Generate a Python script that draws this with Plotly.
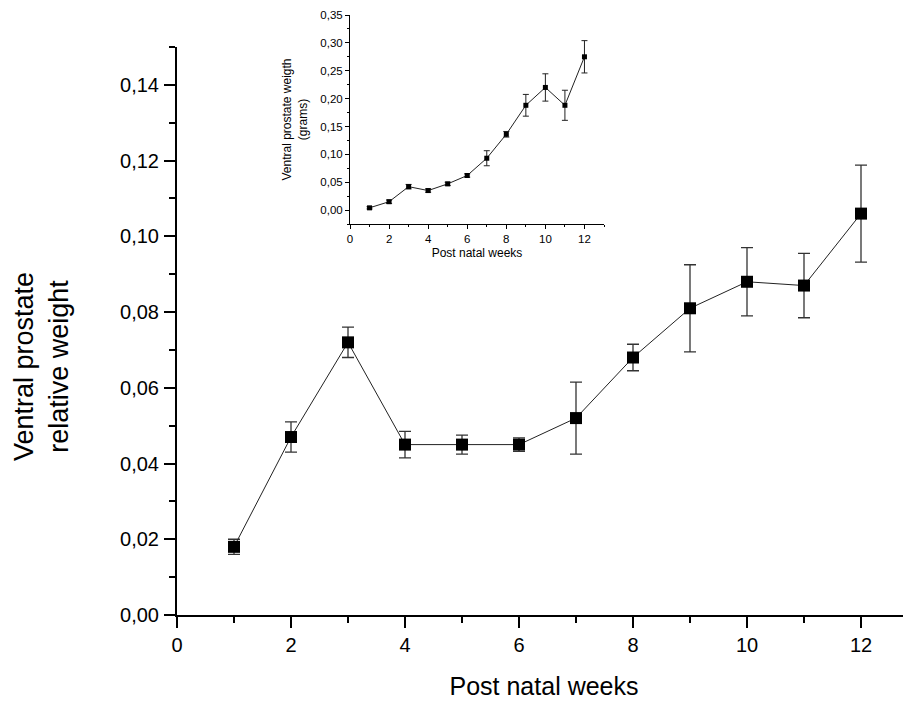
import plotly.graph_objects as go

# Main chart: relative weight
weeks = [1, 2, 3, 4, 5, 6, 7, 8, 9, 10, 11, 12]
rel_weight = [0.018, 0.047, 0.072, 0.045, 0.045, 0.045, 0.052, 0.068, 0.081, 0.088, 0.087, 0.106]
rel_err = [0.002, 0.004, 0.004, 0.0035, 0.0025, 0.0018, 0.0095, 0.0035, 0.0115, 0.009, 0.0085, 0.0128]

# Inset: absolute weight in grams
abs_weight = [0.004, 0.015, 0.042, 0.035, 0.047, 0.062, 0.093, 0.136, 0.188, 0.220, 0.188, 0.275]
abs_err = [0.002, 0.003, 0.004, 0.003, 0.003, 0.003, 0.0135, 0.005, 0.0195, 0.0245, 0.027, 0.029]

main_yticks = [0.00, 0.02, 0.04, 0.06, 0.08, 0.10, 0.12, 0.14]
main_xticks = [0, 2, 4, 6, 8, 10, 12]
inset_yticks = [0.00, 0.05, 0.10, 0.15, 0.20, 0.25, 0.30, 0.35]

FONT = "Liberation Sans, Arial, Helvetica, sans-serif"

fig = go.Figure()

fig.add_trace(go.Scatter(
    x=weeks, y=rel_weight, mode="lines+markers",
    line=dict(color="#222222", width=1),
    marker=dict(symbol="square", size=12, color="black"),
    error_y=dict(type="data", array=rel_err, visible=True, color="#333333", thickness=1.3, width=6),
    xaxis="x", yaxis="y", showlegend=False,
))

fig.add_trace(go.Scatter(
    x=weeks, y=abs_weight, mode="lines+markers",
    line=dict(color="#222222", width=1),
    marker=dict(symbol="square", size=5, color="black"),
    error_y=dict(type="data", array=abs_err, visible=True, color="#222222", thickness=1, width=3),
    xaxis="x2", yaxis="y2", showlegend=False,
))

# page has an 8px body margin; figure is sized so it ends at the window edge
OFF = 8
W, H = 911 - OFF, 707 - OFF
ml = 177 - OFF
y0 = 615 - OFF
mt = 15 - OFF
mb = H - y0
ph = H - mt - mb
main_top = (y0 - (47 - OFF)) / ph
pw = W - ml
px_per_week = 57.0

# y title position (page pixels -> paper coords)
yt_x = (41 - OFF - ml) / pw
yt_y = (H - (367 - OFF) - mb) / ph

fig.update_layout(
    width=W, height=H,
    margin=dict(l=ml, r=0, t=mt, b=mb, autoexpand=False),
    paper_bgcolor="white", plot_bgcolor="white",
    separators=",.",
    font=dict(family=FONT, color="black"),
    xaxis=dict(
        domain=[0, 1], range=[0, pw / px_per_week], anchor="y", automargin=False,
        tickvals=main_xticks, ticks="outside", ticklen=11, tickwidth=2, tickcolor="black",
        showline=True, linewidth=2, linecolor="black", showgrid=False, zeroline=False,
        tickfont=dict(size=20, family=FONT),
        minor=dict(dtick=1, tick0=0, ticks="outside", ticklen=6, tickwidth=2, tickcolor="black", showgrid=False),
        title=dict(text="Post natal weeks", font=dict(size=25, family=FONT), standoff=22),
    ),
    yaxis=dict(
        domain=[0, main_top], range=[0, 0.15], anchor="x", automargin=False,
        tickvals=main_yticks, tickformat=".2f", ticks="outside", ticklen=11, tickwidth=2, tickcolor="black",
        showline=True, linewidth=2, linecolor="black", showgrid=False, zeroline=False,
        tickfont=dict(size=20, family=FONT), ticklabelstandoff=1,
        minor=dict(dtick=0.01, tick0=0, ticks="outside", ticklen=6, tickwidth=2, tickcolor="black", showgrid=False),
    ),
    xaxis2=dict(
        domain=[(350 - 177) / pw, (604 - 177) / pw], range=[0, 13], anchor="y2", automargin=False,
        tickvals=main_xticks, ticks="outside", ticklen=4, tickwidth=1, tickcolor="black",
        showline=True, linewidth=1, linecolor="black", showgrid=False, zeroline=False,
        tickfont=dict(size=11.5, family=FONT),
        minor=dict(dtick=1, tick0=0, ticks="outside", ticklen=2, tickwidth=1, tickcolor="black", showgrid=False),
        title=dict(text="Post natal weeks", font=dict(size=12, family=FONT), standoff=4),
    ),
    yaxis2=dict(
        domain=[(615 - 224) / ph, (615 - 15) / ph], range=[-0.025, 0.35], anchor="x2", automargin=False,
        tickvals=inset_yticks, tickformat=".2f", ticks="outside", ticklen=4, tickwidth=1, tickcolor="black",
        showline=True, linewidth=1, linecolor="black", showgrid=False, zeroline=False,
        tickfont=dict(size=11.5, family=FONT),
        minor=dict(dtick=0.025, tick0=0, ticks="outside", ticklen=2, tickwidth=1, tickcolor="black", showgrid=False),
        title=dict(text="Ventral prostate weigth<br>(grams)", font=dict(size=12, family=FONT), standoff=10),
    ),
    annotations=[dict(
        text="Ventral prostate<br>relative weight", textangle=-90,
        xref="paper", yref="paper", x=yt_x, y=yt_y, xanchor="center", yanchor="middle",
        showarrow=False, font=dict(size=27, family=FONT, color="black"),
    )],
)

fig.write_html("out.html")
